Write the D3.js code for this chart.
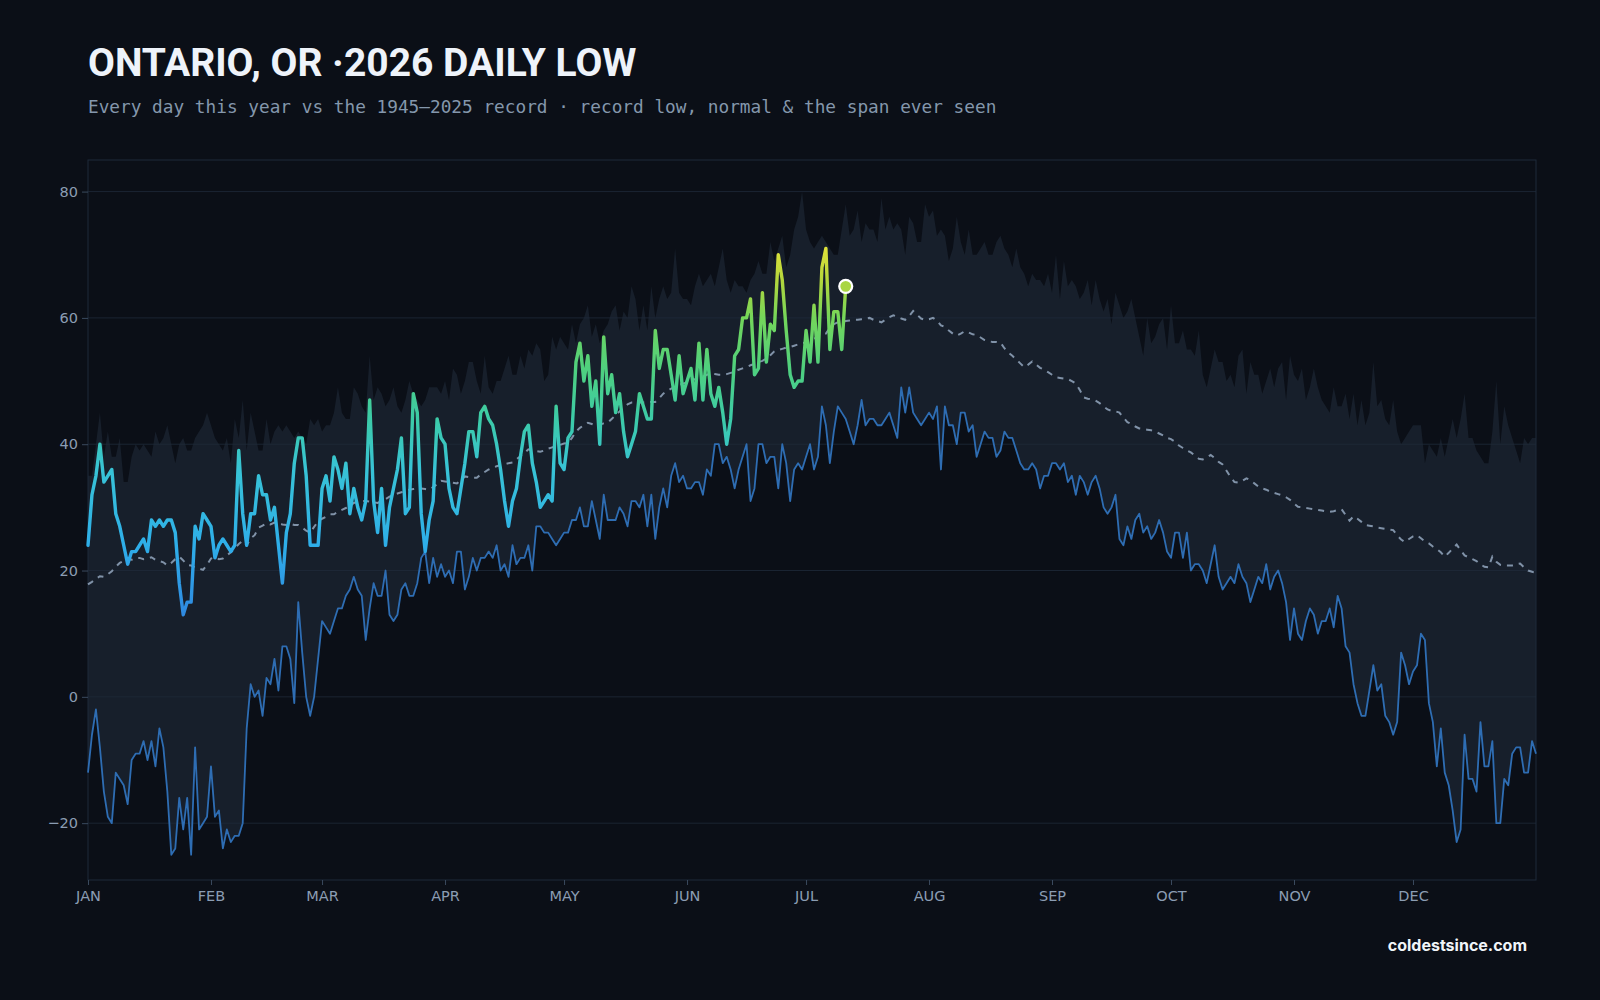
<!DOCTYPE html>
<html>
<head>
<meta charset="utf-8">
<title>Ontario, OR 2026 daily low</title>
<script src="https://cdn.jsdelivr.net/npm/d3@7"></script>
<style>
  body { margin: 0; background: #0b0f17; }
  #chart svg { display: block; }
</style>
</head>
<body>
<div id="chart"></div>
<script>
/* Ontario, OR - 2026 daily lows against the 1945-2025 record */
// one value per day of the year, index 0 = Jan 1 (records run to the very end of the year)

const monthLabels = ["JAN","FEB","MAR","APR","MAY","JUN","JUL","AUG","SEP","OCT","NOV","DEC"];
const yTicks = [-20, 0, 20, 40, 60, 80];

// highest daily low ever seen (top of the band)
const recordHigh = [
  35,35,40,45,38,42,38,38,41,34, 34,38,40,39,40,39,38,42,40,41,
  43,40,37,40,41,39,39,41,42,43, 45,43,41,40,39,41,37,44,41,47,
  39,45,42,39,39,44,40,42,43,42, 43,42,41,42,41,40,44,43,44,42,
  43,43,45,49,45,44,44,49,48,46, 45,54,47,49,48,46,47,49,46,45,
  47,50,48,47,46,47,49,49,49,48, 50,47,52,51,48,50,53,53,50,48,
  54,49,48,50,50,52,54,51,51,54, 52,55,54,56,55,50,51,57,55,57,
  56,55,59,56,59,60,62,57,59,56, 58,59,61,62,58,61,60,65,63,58,
  62,58,65,60,63,65,63,64,71,64, 63,63,62,65,67,65,66,67,65,68,
  71,66,64,66,65,65,64,66,67,69, 67,67,72,69,71,73,68,70,74,76,
  80,74,72,71,72,73,72,71,70,70, 74,78,73,74,77,72,75,74,74,72,
  79,74,76,74,75,74,70,76,75,72, 72,78,76,77,73,74,73,69,71,76,
  72,70,74,70,70,71,72,70,70,72, 73,71,70,68,71,68,67,65,67,66,
  66,65,67,64,70,63,69,65,66,65, 63,64,66,62,66,63,61,63,59,64,
  62,60,61,63,60,57,54,60,56,57, 59,60,55,62,56,56,58,55,55,54,
  58,51,49,52,55,53,53,50,51,49, 54,55,48,53,51,51,48,50,52,49,
  52,53,47,54,51,50,52,47,49,52, 49,47,46,45,49,46,46,48,44,48,
  43,47,43,45,53,46,47,44,43,47, 42,40,41,42,43,43,43,37,40,39,
  38,41,38,41,44,41,44,48,41,41, 39,38,37,37,42,50,40,46,43,41,
  39,37,41,40,41,41
];

// lowest daily low ever seen
const recordLow = [
  -12,-6,-2,-8,-15,-19,-20,-12,-13,-14, -17,-10,-9,-9,-7,-10,-7,-11,-5,-8,
  -15,-25,-24,-16,-21,-16,-25,-8,-21,-20, -19,-11,-19,-18,-24,-21,-23,-22,-22,-20,
  -5,2,0,1,-3,3,2,6,1,8, 8,6,-1,15,7,0,-3,0,6,12,
  11,10,12,14,14,16,17,19,17,16, 9,14,18,16,16,20,13,12,13,17,
  18,16,16,18,22,23,18,22,19,21, 19,20,18,23,23,17,19,22,20,22,
  22,23,22,24,20,21,19,24,21,22, 22,24,20,27,27,26,26,25,24,25,
  26,26,28,28,30,27,27,31,28,25, 32,28,28,28,30,29,27,31,31,30,
  32,27,32,25,30,33,30,35,37,34, 35,33,33,34,34,32,36,35,40,40,
  37,38,36,33,36,38,40,31,33,40, 40,37,38,38,33,40,37,31,36,37,
  36,38,40,36,38,46,43,37,42,46, 45,44,42,40,43,47,43,44,44,43,
  43,44,45,43,41,49,45,49,45,44, 43,44,45,44,46,36,46,43,43,40,
  45,45,42,43,38,40,42,41,41,38, 39,42,41,41,39,37,36,36,37,36,
  33,35,35,37,37,36,37,34,35,32, 35,34,32,34,35,33,30,29,30,32,
  25,24,27,25,28,29,26,27,25,26, 28,26,23,22,26,26,22,26,20,21,
  21,20,18,21,24,19,17,18,19,18, 21,19,18,15,17,19,18,21,17,19,
  20,18,15,9,14,10,9,12,14,13, 10,12,12,14,11,16,14,8,7,2,
  -1,-3,-3,1,5,1,2,-3,-4,-6, -4,7,5,2,4,5,10,9,-1,-4,
  -11,-5,-12,-14,-18,-23,-21,-6,-13,-13, -15,-4,-11,-11,-7,-20,-20,-13,-14,-9,
  -8,-8,-12,-12,-7,-9
];

// normal daily low (dashed)
const normal = [
  17.8,18.2,18.7,19.1,19.0,19.4,19.9,20.6,21.2,21.5, 21.9,21.7,22.0,22.0,21.8,21.9,22.1,21.7,21.5,21.3,
  20.8,21.2,21.8,22.2,21.6,20.9,20.8,20.5,20.3,20.1, 20.9,21.9,22.1,21.8,21.9,22.4,22.9,23.5,24.2,24.7,
  24.0,25.1,25.6,26.8,27.1,27.5,27.3,27.6,27.5,27.3, 27.2,27.4,27.2,27.2,26.8,26.3,26.0,26.9,27.8,28.2,
  28.5,28.9,28.9,29.3,29.6,29.9,30.2,30.7,30.9,31.0, 31.0,30.9,30.8,30.7,31.0,31.3,31.7,32.0,32.2,32.4,
  32.6,32.8,32.9,33.0,33.0,32.9,32.8,33.2,33.7,34.2, 34.1,34.0,33.9,33.8,34.3,34.9,34.8,34.7,34.7,35.2,
  35.6,36.0,36.3,36.5,36.7,36.8,37.0,37.1,37.6,38.1, 38.6,39.2,39.0,38.9,38.8,39.0,39.3,39.5,39.7,39.9,
  40.1,40.2,41.0,42.0,42.6,43.0,43.4,43.2,42.9,43.1, 43.3,43.4,44.0,44.6,45.2,45.8,46.3,46.6,46.6,46.6,
  46.6,46.6,46.7,46.7,47.3,48.0,48.4,48.8,49.1,49.4, 49.6,49.8,50.0,50.3,50.5,50.7,51.0,51.2,51.1,51.0,
  51.0,51.1,51.3,51.5,51.8,52.0,52.2,52.5,52.7,53.0, 53.2,53.6,54.1,54.7,54.9,55.1,55.3,55.4,55.6,55.8,
  56.0,56.1,56.4,56.7,57.0,57.3,57.5,58.4,59.0,59.3, 59.3,59.5,59.6,59.7,59.7,59.8,59.9,60.0,59.7,59.5,
  59.3,59.7,60.1,60.4,60.2,59.9,59.7,60.3,61.1,60.5, 59.9,59.7,59.8,60.0,59.6,58.8,58.6,58.0,57.5,57.2,
  57.5,57.9,57.7,57.4,57.3,56.9,56.5,56.3,56.2,56.2, 56.1,55.2,54.5,54.0,53.4,52.8,52.2,52.6,53.1,52.6,
  52.1,51.8,51.4,51.0,50.6,50.5,50.4,50.3,50.0,49.6, 48.6,47.4,47.2,47.1,46.9,46.5,46.0,45.5,45.3,45.2,
  45.0,44.2,43.5,43.2,42.8,42.5,42.4,42.3,42.2,42.0, 41.7,41.4,41.0,40.8,40.4,39.8,39.4,39.0,38.7,38.2,
  37.7,37.6,37.9,38.3,37.8,37.2,36.8,35.8,34.8,34.0, 33.9,34.2,34.6,34.3,33.8,33.3,33.0,32.8,32.5,32.3,
  32.1,31.9,31.6,31.2,30.6,30.1,30.0,29.9,29.8,29.7, 29.6,29.5,29.4,29.3,29.4,29.6,29.7,28.8,27.9,28.6,
  28.2,27.7,27.2,27.1,27.0,26.8,26.7,26.6,26.5,26.4, 25.6,24.9,24.5,25.0,25.4,25.6,25.1,24.6,24.3,23.8,
  23.4,22.9,22.2,22.8,23.5,24.1,23.2,22.4,22.1,21.8, 21.5,21.0,20.6,20.5,22.2,21.4,20.9,20.8,20.8,20.8,
  21.0,21.1,20.5,20.0,19.8,19.6
];

// 2026 so far (Jan 1 - Jul 11)
const thisYear = [
  24,32,35,40,34,35,36,29,27,24, 21,23,23,24,25,23,28,27,28,27,
  28,28,26,18,13,15,15,27,25,29, 28,27,22,24,25,24,23,24,39,29,
  24,29,29,35,32,32,28,30,24,18, 26,29,37,41,41,35,24,24,24,33,
  35,31,38,36,33,37,29,33,30,28, 31,47,31,26,33,24,30,33,36,41,
  29,30,48,45,29,23,28,31,44,41, 40,33,30,29,33,37,42,42,38,45,
  46,44,43,40,36,31,27,31,33,38, 42,43,37,34,30,31,32,31,46,37,
  36,41,42,53,56,50,54,46,50,40, 57,48,51,45,48,42,38,40,42,48,
  46,44,44,58,52,55,55,51,47,54, 48,50,52,47,56,47,55,48,46,49,
  45,40,44,54,55,60,60,63,51,52, 64,53,59,58,70,66,58,51,49,50,
  50,58,53,62,53,68,71,55,61,61, 55,65
];

const width = 1600, height = 1000,
      margin = ({top: 160, right: 64, bottom: 120, left: 88});

const start = new Date(Date.UTC(2026, 0, 1)),
      end = new Date(Date.UTC(2027, 0, 1));
const day = i => d3.utcDay.offset(start, i); // index -> date

let svg = d3.select("#chart")
  .append("svg")
  .attr("width", width)
  .attr("height", height)
  .attr("viewBox", [0, 0, width, height]);

svg.append("rect")
  .attr("width", width).attr("height", height)
  .attr("fill", "#0b0f17");

const x = d3.scaleUtc()
  .domain([start, end])
  .range([margin.left, width - margin.right]);

const y = d3.scaleLinear()
  .domain([-29, 85])
  .range([height - margin.bottom, margin.top]);

// colour of this year's line goes with the temperature
const colorVals = [12, 24, 36, 44, 52, 60, 66, 71];
const colorHex = ["#2f86e0", "#2eaee9", "#38c3d6", "#3ccba8", "#4fd07e", "#74d65a", "#b4d63c", "#dfe23a"];
const color = d3.scaleLinear().domain(colorVals).range(colorHex);

const grad = svg.append("defs").append("linearGradient")
  .attr("id", "tempGrad")
  .attr("gradientUnits", "userSpaceOnUse")
  .attr("x1", 0).attr("x2", 0)
  .attr("y1", y(colorVals[0]))
  .attr("y2", y(colorVals[colorVals.length - 1]));

grad.selectAll("stop")
  .data(colorVals)
  .join("stop")
  .attr("offset", d => (d - colorVals[0]) / (colorVals[colorVals.length - 1] - colorVals[0]))
  .attr("stop-color", (d, i) => colorHex[i]);

// band = the span ever seen (record low up to record high)
const band = d3.area()
  .x((d, i) => x(day(i)))
  .y0((d, i) => y(recordLow[i]))
  .y1(d => y(d));

svg.append("path")
  .datum(recordHigh)
  .attr("fill", "#171f2b")
  .attr("d", band);

// gridlines
svg.append("g")
  .selectAll("line")
  .data(yTicks)
  .join("line")
  .attr("x1", margin.left)
  .attr("x2", width - margin.right)
  .attr("y1", d => y(d))
  .attr("y2", d => y(d))
  .attr("stroke", "#1f2b3a")
  .attr("stroke-opacity", 0.8);

// frame round the plot
svg.append("rect")
  .attr("x", margin.left)
  .attr("y", margin.top)
  .attr("width", width - margin.left - margin.right)
  .attr("height", height - margin.top - margin.bottom)
  .attr("fill", "none")
  .attr("stroke", "#1e2b3b");

const line = d3.line()
  .x((d, i) => x(day(i)))
  .y(d => y(d));

svg.append("path")
  .datum(recordLow)
  .attr("fill", "none")
  .attr("stroke", "#2e6db3")
  .attr("stroke-width", 1.8)
  .attr("stroke-linejoin", "round")
  .attr("d", line);

svg.append("path")
  .datum(normal)
  .attr("fill", "none")
  .attr("stroke", "#8092a8")
  .attr("stroke-width", 2)
  .attr("stroke-dasharray", "6,6")
  .attr("d", line);

svg.append("path")
  .datum(thisYear)
  .attr("fill", "none")
  .attr("stroke", "url(#tempGrad)")
  .attr("stroke-width", 3.4)
  .attr("stroke-linejoin", "round")
  .attr("stroke-linecap", "round")
  .attr("d", line);

// today
const last = thisYear.length - 1;
svg.append("circle")
  .attr("cx", x(day(last)))
  .attr("cy", y(thisYear[last]))
  .attr("r", 6.5)
  .attr("fill", color(thisYear[last]))
  .attr("stroke", "#ffffff")
  .attr("stroke-width", 2.2);

// axes
const yAxis = g => g
  .attr("transform", `translate(${margin.left},0)`)
  .call(d3.axisLeft(y).tickValues(yTicks).tickSize(6).tickPadding(4))
  .call(g => g.select(".domain").remove());

const xAxis = g => g
  .attr("transform", `translate(0,${height - margin.bottom})`)
  .call(d3.axisBottom(x)
    .tickValues(d3.utcMonths(start, end))
    .tickFormat((d, i) => monthLabels[i])
    .tickSize(5)
    .tickPadding(6))
  .call(g => g.select(".domain").remove());

svg.append("g").call(yAxis);
svg.append("g").call(xAxis);

svg.selectAll(".tick line").attr("stroke", "#3a4a5e");
svg.selectAll(".tick text")
  .attr("fill", "#8b9db3")
  .style("font-family", "'DejaVu Sans', sans-serif")
  .style("font-size", "14.5px");

// titles
svg.append("text")
  .attr("x", margin.left)
  .attr("y", 76)
  .text("ONTARIO, OR ·2026 DAILY LOW")
  .style("font-family", "Roboto, 'Noto Sans', sans-serif")
  .style("font-weight", 700)
  .style("font-size", "39px")
  .style("fill", "#eef3fa");

svg.append("text")
  .attr("x", margin.left)
  .attr("y", 113)
  .text("Every day this year vs the 1945–2025 record · record low, normal & the span ever seen")
  .style("font-family", "'DejaVu Sans Mono', monospace")
  .style("font-size", "17.75px")
  .style("fill", "#8497ac");

svg.append("text")
  .attr("x", 1527)
  .attr("y", 951)
  .attr("text-anchor", "end")
  .text("coldestsince.com")
  .style("font-family", "Inter, 'Noto Sans', sans-serif")
  .style("font-weight", 700)
  .style("font-size", "16px")
  .style("fill", "#f1f5f9");
</script>
</body>
</html>
